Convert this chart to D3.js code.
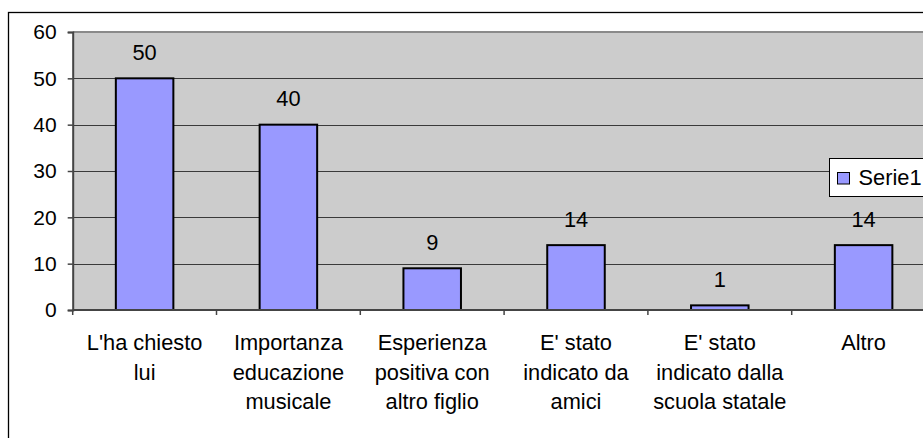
<!DOCTYPE html>
<html>
<head>
<meta charset="utf-8">
<script src="https://cdn.jsdelivr.net/npm/d3@7/dist/d3.min.js"></script>
<style>
  html, body { margin: 0; padding: 0; background: #ffffff; overflow: hidden; }
  svg { display: block; font-family: "Liberation Sans", Arial, sans-serif; }
</style>
</head>
<body>
<svg id="chart" width="923" height="438"></svg>
<script>
const categories = [
  "L'ha chiesto lui",
  "Importanza educazione musicale",
  "Esperienza positiva con altro figlio",
  "E' stato indicato da amici",
  "E' stato indicato dalla scuola statale",
  "Altro"
];
const categoryLines = [
  ["L'ha chiesto", "lui"],
  ["Importanza", "educazione", "musicale"],
  ["Esperienza", "positiva con", "altro figlio"],
  ["E' stato", "indicato da", "amici"],
  ["E' stato", "indicato dalla", "scuola statale"],
  ["Altro"]
];
const values = [50, 40, 9, 14, 1, 14];
const yTicks = [0, 10, 20, 30, 40, 50, 60];
const seriesName = "Serie1";

const svg = d3.select("#chart");
const plot = { left: 72.7, top: 32, bottom: 310, right: 72.7 + 6 * 143.8 };
const axisFont = 21;
const labelFont = 21.8;

// outer chart border (extends beyond the visible frame)
svg.append("rect")
  .attr("x", 8.5).attr("y", 12.5)
  .attr("width", 1100).attr("height", 1100)
  .attr("fill", "#ffffff").attr("stroke", "#000").attr("stroke-width", 1.3);

const x = d3.scaleBand().domain(categories)
  .range([plot.left, plot.right]).paddingInner(0.6).paddingOuter(0.3);
const y = d3.scaleLinear().domain([0, 60]).range([plot.bottom, plot.top]);
const step = x.step();

// plot area
svg.append("rect")
  .attr("x", plot.left).attr("y", plot.top)
  .attr("width", plot.right - plot.left).attr("height", plot.bottom - plot.top)
  .attr("fill", "#cccccc");
svg.append("line")
  .attr("x1", plot.left).attr("x2", plot.right)
  .attr("y1", plot.top).attr("y2", plot.top)
  .attr("stroke", "#8a8a8a").attr("stroke-width", 2);

// gridlines
svg.append("g").selectAll("line")
  .data(yTicks.filter(t => t > 0 && t < 60))
  .join("line")
  .attr("x1", plot.left).attr("x2", plot.right)
  .attr("y1", d => Math.round(y(d)) + 0.5).attr("y2", d => Math.round(y(d)) + 0.5)
  .attr("stroke", "#3a3a3a").attr("stroke-width", 1.2);

// bars
svg.append("g").selectAll("rect")
  .data(values)
  .join("rect")
  .attr("x", (d, i) => x(categories[i]))
  .attr("y", d => y(d))
  .attr("width", x.bandwidth())
  .attr("height", d => y(0) - y(d))
  .attr("fill", "#9999ff")
  .attr("stroke", "#000").attr("stroke-width", 2);

// value labels
svg.append("g").selectAll("text")
  .data(values)
  .join("text")
  .attr("x", (d, i) => x(categories[i]) + x.bandwidth() / 2)
  .attr("y", d => y(d) - 18.5)
  .attr("text-anchor", "middle")
  .attr("font-size", labelFont)
  .attr("fill", "#000")
  .text(d => d);

// y axis
const yAxis = d3.axisLeft(y).tickValues(yTicks).tickSize(5).tickPadding(11);
const gy = svg.append("g").attr("transform", `translate(${plot.left},0)`).call(yAxis);
gy.select(".domain").attr("stroke", "#444").attr("stroke-width", 2);
gy.selectAll(".tick line").attr("stroke", "#444").attr("stroke-width", 1.5);
gy.selectAll(".tick text").attr("font-size", axisFont)
  .attr("font-family", "Liberation Sans, Arial, sans-serif").attr("fill", "#000");

// x axis line and boundary ticks
const boundaries = d3.range(categories.length + 1).map(i => plot.left + i * step);
svg.append("line")
  .attr("x1", plot.left).attr("x2", plot.right)
  .attr("y1", plot.bottom).attr("y2", plot.bottom)
  .attr("stroke", "#444").attr("stroke-width", 2);
svg.append("g").selectAll("line")
  .data(boundaries)
  .join("line")
  .attr("x1", d => d).attr("x2", d => d)
  .attr("y1", plot.bottom).attr("y2", plot.bottom + 5)
  .attr("stroke", "#444").attr("stroke-width", 1.5);

// x labels
const xl = svg.append("g").selectAll("text")
  .data(categoryLines)
  .join("text")
  .attr("text-anchor", "middle")
  .attr("font-size", labelFont)
  .attr("fill", "#000");
xl.each(function(lines, i) {
  const cx = x(categories[i]) + x.bandwidth() / 2;
  d3.select(this).selectAll("tspan")
    .data(lines)
    .join("tspan")
    .attr("x", cx)
    .attr("y", (d, j) => 350 + j * 29.5)
    .text(d => d);
});

// legend
const lg = svg.append("g");
lg.append("rect")
  .attr("x", 829.5).attr("y", 158.5).attr("width", 200).attr("height", 38)
  .attr("fill", "#ffffff").attr("stroke", "#000").attr("stroke-width", 1);
lg.append("rect")
  .attr("x", 837.5).attr("y", 172.5).attr("width", 12).attr("height", 11.5)
  .attr("fill", "#9999ff").attr("stroke", "#000").attr("stroke-width", 1);
lg.append("text")
  .attr("x", 858.5).attr("y", 185)
  .attr("font-size", labelFont).attr("fill", "#000")
  .text(seriesName);
</script>
</body>
</html>
